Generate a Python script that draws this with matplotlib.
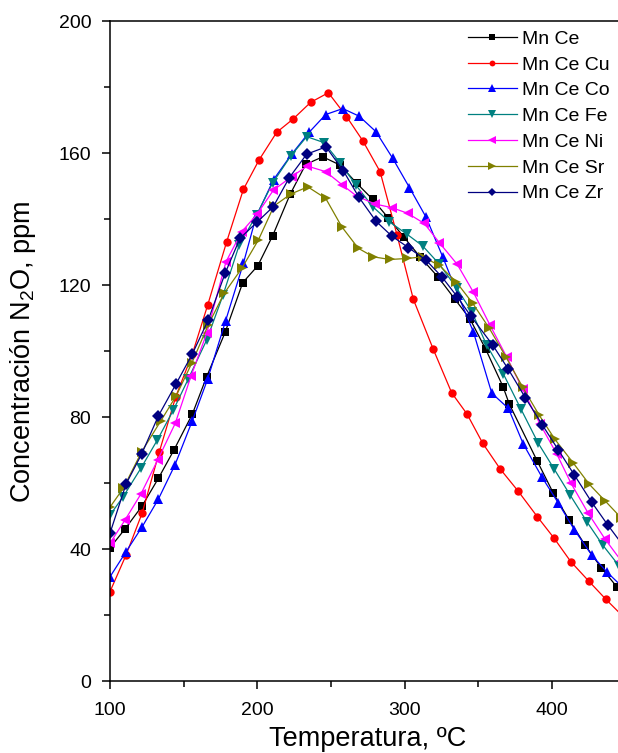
import matplotlib
matplotlib.use("Agg")
import matplotlib.pyplot as plt
from matplotlib.ticker import MultipleLocator

# temperatures (degC) and N2O concentration (ppm)
t_ce = [100, 110.2, 121.7, 132.8, 143.4, 155.9, 165.6, 178.1, 190.1, 200.3, 210.4, 222.2, 232.8,
        244.4, 256.1, 267.4, 278.3, 289.0, 299.6, 310.4, 322.8, 334.2, 344.3, 355.0, 366.7, 371.0,
        390.0, 400.9, 411.6, 422.4, 433.3, 443.9]
n2o_ce = [40.5, 46.2, 53.1, 61.5, 70.1, 81.0, 92.3, 105.7, 120.8, 125.9, 135.0, 147.5, 156.6,
          158.9, 156.4, 150.9, 146.0, 140.3, 134.5, 128.6, 122.4, 115.7, 109.8, 100.6, 89.3, 84.0,
          66.7, 57.0, 48.9, 41.3, 34.5, 28.7]

t_cu = [100, 110.9, 121.9, 133.5, 144.6, 155.9, 166.3, 179.2, 190.5, 201.1, 213.1, 224.4, 236.2,
        248.2, 260.5, 271.5, 283.3, 294.8, 305.9, 319.4, 331.9, 342.3, 353.0, 364.9, 376.9, 390.0,
        401.2, 412.7, 424.9, 436.5, 447.5]
n2o_cu = [27.2, 38.3, 51.1, 69.6, 86.2, 99.2, 114.0, 133.2, 149.0, 157.9, 166.3, 170.4, 175.4,
          178.3, 171.1, 163.8, 154.4, 135.2, 115.7, 100.6, 87.4, 81.0, 72.1, 64.3, 57.7, 49.9,
          43.5, 36.3, 30.4, 24.9, 20.0]

t_co = [100, 110.9, 121.9, 132.8, 144.1, 155.9, 166.3, 178.5, 190.5, 199.1, 211.0, 223.3, 235.1,
        246.4, 258.0, 269.1, 280.5, 291.9, 303.2, 314.5, 325.8, 336.2, 346.6, 359.1, 370.4, 380.5,
        393.0, 404.3, 415.2, 426.9, 437.1, 448.0]
n2o_co = [31.7, 39.3, 46.9, 55.2, 65.6, 79.0, 91.6, 109.3, 126.6, 140.7, 152.0, 159.7, 166.3,
          171.7, 173.5, 171.2, 166.5, 158.4, 149.6, 140.6, 128.6, 117.0, 105.9, 87.3, 82.7, 71.9,
          62.0, 54.0, 45.9, 38.3, 33.2, 28.5]

t_fe = [100, 109.0, 121.0, 132.1, 143.0, 153.1, 165.6, 176.7, 187.7, 199.5, 210.4, 222.6, 233.5,
        245.2, 256.1, 266.9, 278.3, 289.6, 301.4, 312.2, 323.5, 335.3, 345.5, 355.6, 367.0, 379.0,
        390.7, 401.5, 412.2, 423.6, 434.4, 445.5]
n2o_fe = [50.4, 56.0, 64.6, 73.1, 82.2, 91.6, 103.4, 117.0, 132.2, 141.3, 151.0, 159.1, 165.0,
          163.2, 157.1, 150.3, 143.8, 139.2, 135.5, 131.9, 126.4, 119.1, 112.0, 101.9, 93.1, 82.4,
          72.1, 64.3, 56.5, 48.4, 41.3, 35.0]

t_ni = [100, 110.2, 121.0, 132.4, 144.3, 155.0, 165.6, 178.7, 189.4, 199.8, 210.9, 223.3, 233.9,
        246.4, 257.3, 267.4, 279.9, 291.2, 302.0, 313.3, 323.5, 335.7, 346.6, 357.9, 369.3, 380.1,
        391.8, 403.2, 412.9, 424.6, 436.0, 447.0]
n2o_ni = [41.9, 48.9, 56.8, 67.1, 78.2, 92.5, 105.4, 127.1, 136.2, 141.5, 148.8, 152.9, 156.1,
          154.4, 150.5, 147.0, 144.6, 143.5, 141.8, 138.7, 132.9, 126.3, 117.9, 107.9, 98.2, 88.5,
          78.0, 68.9, 60.0, 50.9, 43.1, 36.5]

t_sr = [100, 109.0, 121.5, 134.6, 144.8, 155.5, 166.7, 177.4, 189.4, 200.7, 211.3, 222.6, 234.2,
        246.4, 257.3, 268.5, 278.7, 290.0, 301.4, 312.2, 323.5, 334.8, 346.2, 357.5, 368.8, 380.1,
        391.2, 402.0, 414.5, 425.3, 436.0, 447.0]
n2o_sr = [52.8, 58.5, 69.6, 79.0, 86.4, 96.4, 108.0, 117.5, 125.1, 133.7, 144.0, 147.6, 149.8,
          146.3, 137.7, 131.2, 128.6, 127.8, 128.1, 128.6, 126.0, 121.1, 114.5, 106.9, 98.2, 89.1,
          80.7, 73.3, 66.1, 59.7, 54.7, 49.5]

t_zr = [100, 110.9, 121.5, 132.8, 144.8, 155.9, 166.7, 178.1, 188.2, 200.0, 210.8, 221.7, 233.5,
        246.6, 258.3, 269.0, 280.5, 291.2, 302.5, 314.5, 325.1, 335.7, 344.8, 359.7, 370.4, 381.9,
        393.4, 404.3, 415.2, 426.9, 437.8, 448.5]
n2o_zr = [44.9, 59.8, 68.9, 80.4, 90.1, 99.2, 109.5, 123.6, 134.2, 139.2, 143.8, 152.6, 159.7,
          161.9, 154.7, 146.6, 139.4, 134.9, 131.4, 127.6, 122.6, 116.5, 110.7, 101.9, 94.5, 85.9,
          77.7, 70.1, 62.5, 54.3, 47.4, 41.0]

labels = ["Mn Ce", "Mn Ce Cu", "Mn Ce Co", "Mn Ce Fe", "Mn Ce Ni", "Mn Ce Sr", "Mn Ce Zr"]

plt.rcParams["font.family"] = ["Liberation Sans", "DejaVu Sans"]
plt.rcParams["mathtext.fontset"] = "custom"
plt.rcParams["mathtext.rm"] = "Liberation Sans"

fig = plt.figure(figsize=(6.18, 7.53), dpi=100)
ax = fig.add_axes([0.178, 0.095, 0.8345, 0.877])

series = [
    (t_ce, n2o_ce, "#000000", "s", 5.5),
    (t_cu, n2o_cu, "#FF0000", "o", 6),
    (t_co, n2o_co, "#0000FF", "^", 7.5),
    (t_fe, n2o_fe, "#008080", "v", 7.5),
    (t_ni, n2o_ni, "#FF00FF", "<", 7.5),
    (t_sr, n2o_sr, "#808000", ">", 7.5),
    (t_zr, n2o_zr, "#000080", "D", 6.5),
]
for (t, c, col, mk, ms), lab in zip(series, labels):
    ax.plot(t, c, color=col, marker=mk, markersize=ms, markeredgewidth=0,
            linewidth=0.9, label=lab)

ax.set_xlim(100, 450)
ax.set_ylim(0, 200)
ax.xaxis.set_major_locator(MultipleLocator(100))
ax.xaxis.set_minor_locator(MultipleLocator(50))
ax.yaxis.set_major_locator(MultipleLocator(40))
ax.yaxis.set_minor_locator(MultipleLocator(20))
ax.tick_params(which="both", direction="out", top=False, right=False, width=1.1, labelsize=14)
ax.tick_params(which="major", length=6)
ax.tick_params(which="minor", length=4)
ax.tick_params(axis="x", which="major", pad=9)
ax.tick_params(axis="y", which="major", pad=7.5)
for sp in ax.spines.values():
    sp.set_linewidth(1.1)

ax.set_xlabel("Temperatura, ºC", fontsize=19.5, labelpad=5)
ax.set_ylabel(r"Concentración N$_{\mathrm{2}}$O, ppm", fontsize=19.5)
ax.yaxis.set_label_coords(-0.14, 0.5)

ax.legend(loc="upper left", bbox_to_anchor=(468 / 618, 0.960), bbox_transform=fig.transFigure,
          frameon=False, fontsize=14, handlelength=2.5, handletextpad=0.3,
          labelspacing=0.42, borderpad=0, borderaxespad=0, markerscale=0.7)

fig.savefig("out.png", dpi=100)
